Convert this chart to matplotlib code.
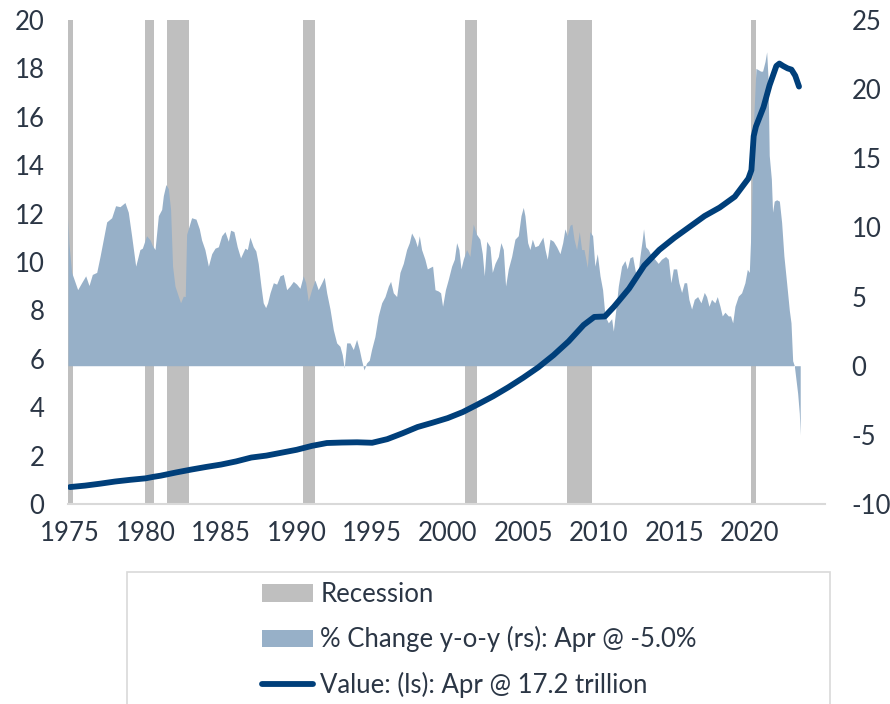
import matplotlib
matplotlib.use("Agg")
import matplotlib.pyplot as plt
from matplotlib.patches import Patch, Rectangle
from matplotlib.lines import Line2D

plt.rcParams['font.family'] = ['Lato', 'DejaVu Sans']
plt.rcParams['axes.unicode_minus'] = False

# ---------------- data ----------------
rec_start = [1974.87, 1979.95, 1981.45, 1990.45, 2001.14, 2007.9, 2020.07]
rec_end   = [1975.20, 1980.55, 1982.88, 1991.20, 2001.94, 2009.55, 2020.38]

yoy_year = [1974.87, 1974.93, 1975.11, 1975.51, 1975.77, 1976.04, 1976.26, 1976.48, 1976.77, 1976.99,
            1977.21, 1977.43, 1977.76, 1978.02, 1978.31, 1978.64, 1978.86, 1979.08, 1979.35, 1979.63,
            1979.79, 1980.07, 1980.30, 1980.45, 1980.63, 1980.85, 1981.07, 1981.18, 1981.35, 1981.51,
            1981.66, 1981.79, 1981.95, 1982.17, 1982.32, 1982.50, 1982.63, 1982.72, 1983.05, 1983.34,
            1983.56, 1983.71, 1983.93, 1984.16, 1984.38, 1984.60, 1984.82, 1985.04, 1985.26, 1985.48,
            1985.63, 1985.85, 1986.07, 1986.29, 1986.58, 1986.74, 1986.91, 1987.13, 1987.30, 1987.46,
            1987.64, 1987.79, 1987.95, 1988.08, 1988.24, 1988.46, 1988.68, 1988.90, 1989.12, 1989.34,
            1989.56, 1989.78, 1990.00, 1990.22, 1990.44, 1990.60, 1990.77, 1990.99, 1991.21, 1991.43,
            1991.66, 1991.83, 1991.99, 1992.21, 1992.43, 1992.65, 1992.87, 1993.02, 1993.15, 1993.31,
            1993.53, 1993.75, 1993.97, 1994.15, 1994.30, 1994.46, 1994.63, 1994.81, 1994.96, 1995.18,
            1995.40, 1995.63, 1995.85, 1996.07, 1996.22, 1996.40, 1996.62, 1996.84, 1997.06, 1997.28,
            1997.46, 1997.61, 1997.83, 1997.99, 1998.12, 1998.27, 1998.49, 1998.65, 1998.82, 1999.00,
            1999.16, 1999.38, 1999.53, 1999.66, 1999.85, 2000.04, 2000.26, 2000.44, 2000.59, 2000.74,
            2000.88, 2001.03, 2001.25, 2001.47, 2001.69, 2001.91, 2002.13, 2002.29, 2002.42, 2002.58,
            2002.80, 2002.95, 2003.13, 2003.35, 2003.52, 2003.68, 2003.83, 2004.01, 2004.23, 2004.45,
            2004.67, 2004.85, 2005.00, 2005.11, 2005.29, 2005.44, 2005.60, 2005.77, 2005.99, 2006.22,
            2006.30, 2006.44, 2006.59, 2006.77, 2006.99, 2007.21, 2007.43, 2007.61, 2007.76, 2007.91,
            2008.09, 2008.22, 2008.36, 2008.53, 2008.71, 2008.86, 2009.02, 2009.24, 2009.41, 2009.59,
            2009.74, 2009.90, 2010.08, 2010.25, 2010.41, 2010.63, 2010.85, 2010.96, 2011.13, 2011.29,
            2011.51, 2011.73, 2011.88, 2012.06, 2012.24, 2012.42, 2012.57, 2012.72, 2012.88, 2012.96,
            2013.10, 2013.27, 2013.49, 2013.71, 2013.93, 2014.15, 2014.42, 2014.60, 2014.77, 2014.93,
            2015.15, 2015.30, 2015.48, 2015.65, 2015.81, 2015.96, 2016.14, 2016.32, 2016.54, 2016.76,
            2016.98, 2017.13, 2017.29, 2017.46, 2017.68, 2017.84, 2018.02, 2018.17, 2018.35, 2018.57,
            2018.72, 2018.86, 2019.01, 2019.23, 2019.45, 2019.67, 2019.83, 2019.96, 2020.09, 2020.22,
            2020.40, 2020.56, 2020.71, 2020.84, 2021.00, 2021.11, 2021.20, 2021.28, 2021.42, 2021.50,
            2021.61, 2021.77, 2021.95, 2022.10, 2022.25, 2022.43, 2022.61, 2022.72, 2022.83, 2022.94,
            2023.05, 2023.16, 2023.27, 2023.33]
yoy_value = [10.7, 8.84, 6.75, 5.5, 6.0, 6.5, 5.8, 6.6, 6.75, 7.9,
             9.15, 10.4, 10.7, 11.57, 11.5, 11.8, 11.1, 9.4, 7.2, 8.4,
             8.5, 9.4, 9.1, 8.7, 8.4, 10.85, 11.3, 12.3, 13.1, 12.8,
             11.3, 7.2, 5.76, 5.03, 4.55, 5.03, 5.0, 9.5, 10.7, 10.6,
             9.9, 9.1, 8.4, 7.2, 8.1, 8.5, 8.6, 9.4, 9.7, 9.0,
             9.8, 9.7, 8.6, 7.8, 8.5, 8.4, 9.3, 8.6, 8.3, 7.4,
             5.76, 4.55, 4.2, 4.55, 5.27, 6.0, 5.9, 6.5, 6.6, 5.5,
             5.76, 6.1, 5.9, 5.6, 6.5, 6.0, 4.67, 5.5, 6.2, 5.5,
             6.0, 6.4, 5.27, 4.1, 2.6, 1.65, 1.4, 0.8, -0.17, 1.65,
             1.65, 1.17, 1.9, 1.17, 0.4, -0.3, 0.2, 0.4, 1.17, 2.1,
             3.6, 4.55, 5.0, 5.76, 6.1, 5.27, 5.0, 6.75, 7.4, 8.4,
             8.9, 9.6, 9.15, 8.6, 9.4, 8.4, 7.7, 7.0, 7.1, 7.2,
             5.5, 5.4, 5.27, 4.3, 5.5, 6.25, 7.2, 7.7, 8.9, 8.4,
             7.0, 7.7, 8.4, 7.9, 10.24, 9.5, 9.15, 8.1, 6.5, 9.0,
             8.6, 6.75, 7.4, 7.9, 8.9, 8.4, 5.76, 7.0, 7.9, 9.15,
             9.4, 10.85, 11.45, 10.85, 8.9, 8.4, 9.15, 8.6, 8.7, 9.15,
             9.3, 8.4, 7.7, 9.15, 9.0, 8.6, 8.1, 8.9, 9.9, 9.4,
             10.15, 10.24, 9.15, 8.4, 9.7, 8.4, 8.4, 7.1, 9.7, 9.4,
             7.2, 8.1, 6.5, 5.5, 3.6, 3.1, 3.4, 2.5, 4.1, 5.76,
             7.2, 7.6, 7.0, 7.8, 7.9, 6.8, 6.5, 7.9, 9.15, 9.9,
             8.6, 8.4, 7.9, 7.7, 7.4, 7.7, 7.9, 7.7, 6.0, 7.0,
             7.0, 6.0, 5.3, 6.0, 6.0, 4.8, 4.1, 4.8, 5.0, 4.55,
             5.3, 5.0, 4.3, 4.8, 4.55, 5.0, 4.3, 3.6, 3.87, 3.6,
             3.6, 3.1, 4.3, 5.03, 5.27, 6.0, 6.97, 6.75, 10.36, 17.1,
             21.5, 21.4, 21.3, 21.3, 22.0, 22.7, 20.8, 15.2, 13.5, 11.1,
             11.9, 12.0, 11.9, 10.36, 7.94, 6.0, 4.0, 3.1, 0.36, 0.0,
             -1.0, -2.0, -3.45, -5.0]

val_year = [1975.0, 1976.0, 1977.0, 1978.0, 1979.0, 1980.0, 1980.5, 1981.0, 1982.0, 1983.0,
            1984.0, 1985.0, 1986.0, 1987.0, 1988.0, 1989.0, 1990.0, 1991.0, 1992.0, 1993.0,
            1994.0, 1995.0, 1996.0, 1997.0, 1998.0, 1999.0, 2000.0, 2001.0, 2002.0, 2003.0,
            2004.0, 2005.0, 2006.0, 2007.0, 2008.0, 2009.0, 2009.7, 2010.4, 2011.0, 2012.0,
            2013.0, 2014.0, 2015.0, 2016.0, 2017.0, 2018.0, 2019.0, 2019.9, 2020.1, 2020.25,
            2020.4, 2020.9, 2021.3, 2021.75, 2021.95, 2022.2, 2022.5, 2022.75, 2023.0, 2023.25]
val_value = [0.70, 0.76, 0.84, 0.93, 1.00, 1.06, 1.12, 1.17, 1.30, 1.42,
             1.53, 1.63, 1.76, 1.92, 2.00, 2.12, 2.24, 2.40, 2.52, 2.54,
             2.55, 2.53, 2.68, 2.92, 3.18, 3.36, 3.55, 3.80, 4.12, 4.45,
             4.82, 5.22, 5.65, 6.15, 6.72, 7.40, 7.73, 7.75, 8.15, 8.90,
             9.85, 10.50, 11.00, 11.45, 11.90, 12.25, 12.70, 13.45, 13.80, 15.20,
             15.60, 16.40, 17.30, 18.10, 18.20, 18.10, 18.00, 17.95, 17.70, 17.25]

xtick_labels = ['1975', '1980', '1985', '1990', '1995', '2000', '2005', '2010', '2015', '2020']
xtick_years = [1975, 1980, 1985, 1990, 1995, 2000, 2005, 2010, 2015, 2020]

# ---------------- style ----------------
TXT = '#2B3645'
REC = '#BFBFBF'
FILL = '#97B0C8'
LINE = '#003F7A'

fig = plt.figure(figsize=(8.9, 7.04), dpi=100)
W, H = 890, 704
left, right, top, bottom = 68, 825, 20, 504
ax2 = fig.add_axes([left / W, 1 - bottom / H, (right - left) / W, (bottom - top) / H])
ax = ax2.twinx()
# ax2: right scale (bars + yoy fill); ax: left scale (line), drawn on top
ax2.yaxis.tick_right()
ax.yaxis.tick_left()

for s, e in zip(rec_start, rec_end):
    ax2.axvspan(s, e, color=REC, lw=0, zorder=1)
ax2.fill_between(yoy_year, 0, yoy_value, color=FILL, lw=0, zorder=2)
ax2.set_ylim(-10, 25)
ax2.set_yticks(range(-10, 26, 5))

ax.plot(val_year, val_value, color=LINE, lw=4.2, solid_capstyle='round', solid_joinstyle='round', zorder=3)
ax.set_ylim(0, 20)
ax.set_yticks(range(0, 21, 2))

ax2.set_xlim(1974.87, 2024.97)
ax2.set_xticks(xtick_years)
ax2.set_xticklabels(xtick_labels)
for a in (ax, ax2):
    for sp in a.spines.values():
        sp.set_visible(False)
    a.tick_params(length=0, labelsize=18.5, labelcolor=TXT)
ax2.spines['bottom'].set_visible(True)
ax2.spines['bottom'].set_color('#D9D9D9')
ax2.spines['bottom'].set_linewidth(1.5)
ax.tick_params(axis='y', pad=17)
ax2.tick_params(axis='y', pad=19)
ax2.tick_params(axis='x', pad=12, labelbottom=True)
for lab in ax2.get_yticklabels():
    lab.set_horizontalalignment('left')
ax.patch.set_visible(False)

# legend box
fig.patches.append(Rectangle((127 / W, -0.01), (830 - 127) / W, 1 - 572 / H + 0.01,
                             transform=fig.transFigure, facecolor='white',
                             edgecolor='#D9D9D9', lw=1.2))
handles = [Patch(facecolor=REC, edgecolor='none'),
           Patch(facecolor=FILL, edgecolor='none'),
           Line2D([], [], color=LINE, lw=4.2, solid_capstyle='round')]
labels = ['Recession', '% Change y-o-y (rs): Apr @ -5.0%', 'Value: (ls): Apr @ 17.2 trillion']
leg = fig.legend(handles, labels, loc='upper left', bbox_to_anchor=(262 / W, 1 - 582 / H),
                 frameon=False, fontsize=18.5, handlelength=2.0, handleheight=0.66,
                 handletextpad=0.27, labelspacing=0.75, borderpad=0, borderaxespad=0)
for t in leg.get_texts():
    t.set_color(TXT)

fig.savefig('out.png', dpi=100)
